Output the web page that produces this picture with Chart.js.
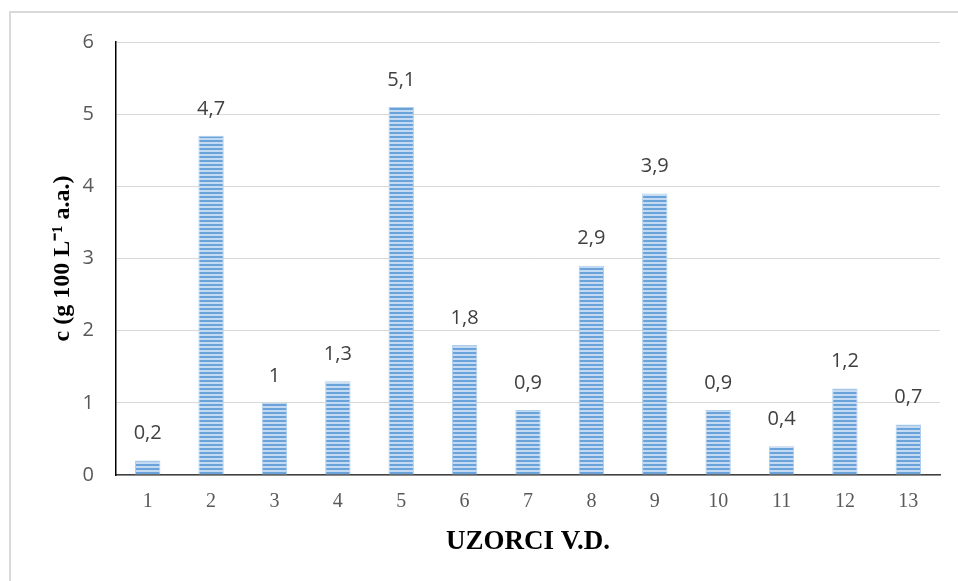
<!DOCTYPE html>
<html>
<head>
<meta charset="utf-8">
<script src="https://cdn.jsdelivr.net/npm/chart.js@4.4.0/dist/chart.umd.min.js"></script>
<style>
  html, body { margin: 0; padding: 0; background: #fff; }
  #wrap { position: relative; width: 958px; height: 581px; overflow: hidden; }
  #frame { position: absolute; left: 9px; top: 11px; width: 960px; height: 600px;
           border-top: 2px solid #d9d9d9; border-left: 2px solid #d9d9d9; }
  canvas { position: absolute; left: 0; top: 0; }
</style>
</head>
<body>
<div id="wrap">
  <div id="frame"></div>
  <canvas id="chart" width="958" height="581"></canvas>
</div>
<script>
// podaci očitani s grafikona
const uzorci = ['1', '2', '3', '4', '5', '6', '7', '8', '9', '10', '11', '12', '13'];
const koncentracija = [0.2, 4.7, 1, 1.3, 5.1, 1.8, 0.9, 2.9, 3.9, 0.9, 0.4, 1.2, 0.7];
const yTicks = [0, 1, 2, 3, 4, 5, 6];

// prugasti uzorak stupaca
function makeStripes() {
    const c = document.createElement('canvas');
    c.width = 4; c.height = 4;
    const g = c.getContext('2d');
    g.fillStyle = '#6aa3da';
    g.fillRect(0, 0, 4, 2);
    g.fillStyle = '#c4daf2';
    g.fillRect(0, 2, 4, 2);
    return g.createPattern(c, 'repeat');
}

// oznake vrijednosti iznad stupaca
const valueLabels = {
    id: 'valueLabels',
    afterDatasetsDraw(chart) {
        const ctx = chart.ctx;
        const meta = chart.getDatasetMeta(0);
        ctx.save();
        ctx.font = '20px "Open Sans", sans-serif';
        ctx.fillStyle = '#404040';
        ctx.textAlign = 'center';
        ctx.textBaseline = 'middle';
        meta.data.forEach((bar, i) => {
            const txt = String(koncentracija[i]).replace('.', ',');
            ctx.fillText(txt, bar.x, bar.y - 27);
        });
        ctx.restore();
    }
};

const ctx = document.getElementById('chart').getContext('2d');
new Chart(ctx, {
    type: 'bar',
    data: {
        labels: uzorci,
        datasets: [{
            data: koncentracija,
            backgroundColor: makeStripes(),
            borderColor: 'rgba(170,203,236,0.95)',
            borderWidth: 1,
            borderSkipped: 'bottom',
            barPercentage: 0.4,
            categoryPercentage: 1
        }]
    },
    options: {
        responsive: false,
        animation: false,
        devicePixelRatio: 1,
        layout: { padding: { left: 0, top: 42, right: 18, bottom: 0 } },
        plugins: {
            legend: { display: false },
            tooltip: { enabled: false }
        },
        scales: {
            x: {
                grid: { display: false, drawTicks: false },
                border: { color: '#404040', width: 1.5 },
                ticks: {
                    color: '#595959',
                    padding: 15,
                    font: { family: '"Liberation Serif", "Times New Roman", serif', size: 20 }
                },
                title: {
                    display: true,
                    text: 'UZORCI V.D.',
                    color: '#000',
                    padding: { top: 0, bottom: 23 },
                    font: { family: '"Liberation Serif", "Times New Roman", serif', size: 27, weight: 'bold' }
                },
                afterFit: scale => { scale.height = 106; }
            },
            y: {
                min: 0,
                max: 6,
                afterBuildTicks: scale => { scale.ticks = yTicks.map(v => ({ value: v })); },
                grid: { color: '#d9d9d9', lineWidth: 1, drawTicks: false },
                border: { color: '#000', width: 1.5 },
                ticks: {
                    color: '#595959',
                    padding: 22,
                    font: { family: '"Open Sans", sans-serif', size: 20 }
                },
                title: {
                    display: true,
                    text: 'c (g 100 L\u207B\u00B9 a.a.)',
                    color: '#000',
                    padding: { top: 48, bottom: 0 },
                    font: { family: '"Liberation Serif", "Times New Roman", serif', size: 24, weight: 'bold' }
                },
                afterFit: scale => { scale.width = 116; }
            }
        }
    },
    plugins: [valueLabels]
});
</script>
</body>
</html>
